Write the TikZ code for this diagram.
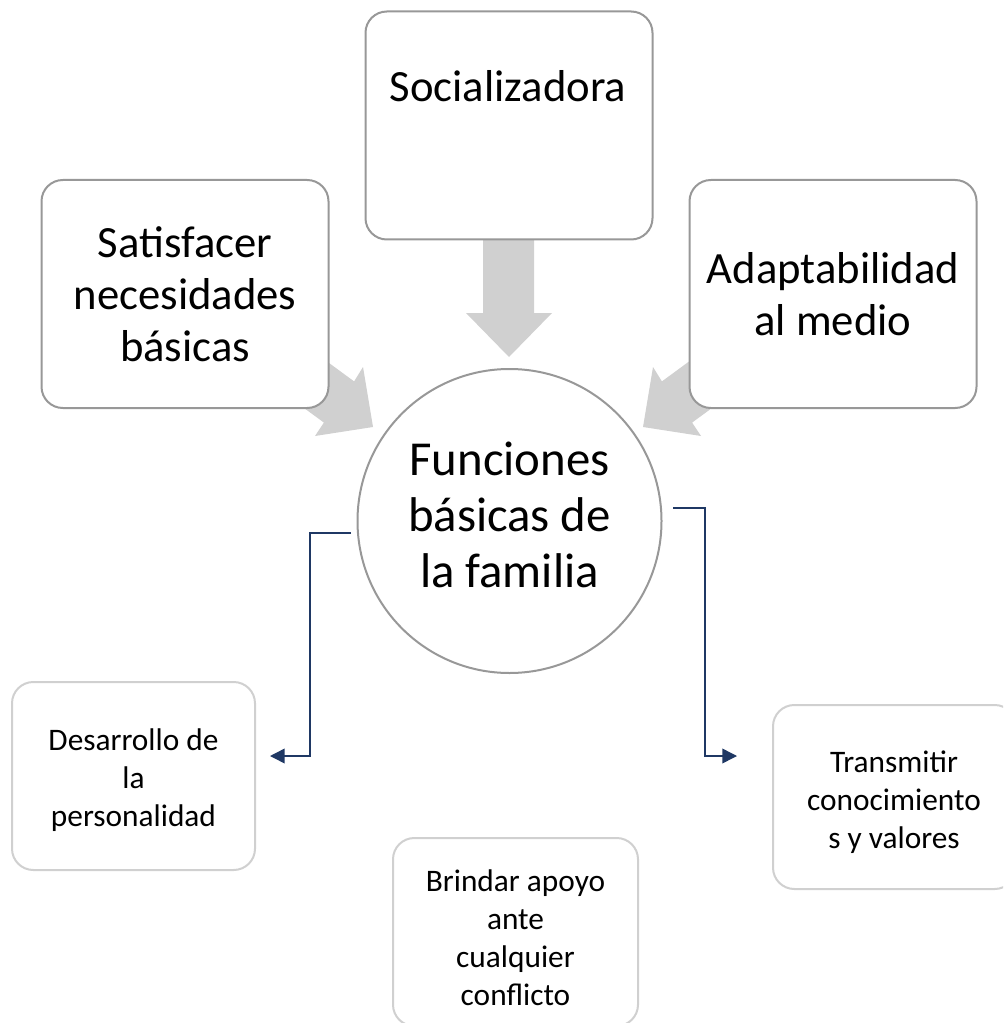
\documentclass[tikz,border=0pt]{standalone}
\usepackage{fontspec}
\setmainfont{Carlito}
\usetikzlibrary{arrows.meta}
\definecolor{boxgray}{RGB}{152,152,152}
\definecolor{lightbox}{RGB}{208,208,208}
\definecolor{arrowfill}{RGB}{208,208,208}
\definecolor{navy}{RGB}{31,56,100}
\begin{document}
\begin{tikzpicture}[x=0.75pt,y=-0.75pt,
  bigbox/.style={draw=boxgray, line width=1.5pt, rounded corners=16pt, fill=white,
    minimum width=215.25pt, minimum height=171pt, inner sep=0pt, align=center,
    font=\fontsize{33.5}{39}\selectfont},
  smallbox/.style={draw=lightbox, line width=1.5pt, rounded corners=16pt, fill=white,
    minimum width=182.25pt, minimum height=141pt, inner sep=0pt},
  smalltext/.style={inner sep=0pt, align=center, font=\fontsize{23.5}{28.5}\selectfont},
  hubcircle/.style={circle, draw=boxgray, line width=1.5pt, fill=white,
    minimum size=228pt, inner sep=0pt},
  hubtext/.style={inner sep=0pt, align=center, font=\fontsize{36.6}{42}\selectfont},
  bigtext/.style={inner sep=0pt, font=\fontsize{33.5}{39}\selectfont},
  grayarrow/.style={fill=arrowfill, draw=none},
  conn/.style={draw=navy, line width=1.1pt, -{Triangle[length=11pt,width=11pt]}}
]
\useasboundingbox (0,0) rectangle (1003,1023);
\clip (0,0) rectangle (1003,1023);

% gray block arrows (behind boxes)
\fill[grayarrow] (483,200) -- (534,200) -- (534,313) -- (552,313) -- (509,357)
  -- (466,313) -- (483,313) -- cycle;
\fill[grayarrow] (227.2,351.6) -- (323.9,422.6) -- (315,436) -- (373,427)
  -- (363,367) -- (354.1,381.4) -- (257.4,310.4) -- cycle;
\fill[grayarrow] (788.8,351.6) -- (692.1,422.6) -- (701,436) -- (643,427)
  -- (653,367) -- (661.9,381.4) -- (758.6,310.4) -- cycle;

% top boxes
\node[bigbox] (soc) at (509,125.5) {};
\node[bigtext, anchor=base] (soctext) at (508,102) {Socializadora};
\node[bigbox] (sat) at (185,294) {Satisfacer\\necesidades\\básicas};
\node[bigbox] (ada) at (833,294) {Adaptabilidad\\al medio};

% hub
\node[hubcircle] (hub) at (509.5,521) {};
\node[hubtext] (hubtxt) at (509.5,515) {Funciones\\básicas de\\la familia};

% small boxes
\node[smallbox] (des) at (133.5,776) {};
\node[smalltext] (destxt) at (133.5,780) {Desarrollo de\\la\\personalidad};
\node[smallbox, minimum height=138pt] (tra) at (894.5,797) {};
\node[smalltext] (tratxt) at (894,802) {Transmitir\\conocimiento\\s y valores};
\node[smallbox, minimum width=183.75pt] (bri) at (515.5,932) {};
\node[smalltext] (britxt) at (515.5,938) {Brindar apoyo\\ante\\cualquier\\conflicto};

% connectors
\coordinate (ls) at (351,533);
\coordinate (lt) at (270,756);
\coordinate (rs) at (673,508);
\coordinate (rt) at (737,756);
\draw[conn] (ls) -- (310,533) -- (310,756) -- (lt);
\draw[conn] (rs) -- (705,508) -- (705,756) -- (rt);
\end{tikzpicture}
\end{document}
